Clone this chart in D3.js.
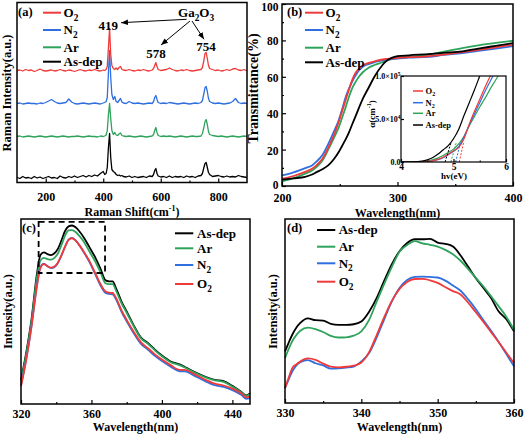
<!DOCTYPE html>
<html><head><meta charset="utf-8">
<script src="https://cdn.jsdelivr.net/npm/d3@7"></script>
<style>
body{margin:0;background:#fff}
svg{display:block}
text{font-family:"Liberation Serif","Times New Roman",serif;font-weight:bold;fill:#000}
</style>
</head><body>
<svg id="chart" width="524" height="435"></svg>
<script>
// ---------------- DATA ----------------
const seriesNames = ["O2", "N2", "Ar", "As-dep"];

// (a) Raman spectra (offset-stacked, arbitrary units)
const ramanShift = [100,110,120,130,140,150,160,170,180,190,200,210,220,230,240,250,260,270,280,290,300,310,320,330,340,350,360,370,380,390,400,
 405,410,414,418,422,426,430,435,440,445,450,455,460,465,470,
 480,490,500,510,520,530,540,550,560,570,
 575,579,583,587,591,
 600,610,620,630,640,650,660,670,680,690,700,710,720,730,740,
 745,750,754,758,762,766,770,
 780,790,800,810,820,830,840,850,860,870,880,890,900];
const ramanO2 = [112,112.5,111.5,113,112,112.5,111,112,113.5,112,111.5,112,112.5,111.5,112,113,112,111.5,112.5,112,111,112,113,112,111.5,112.5,112,113,112,111.5,112.5,
 112,113,116,135,154,128,117,114,113,114.5,113,115,116,113,112.5,
 112,113,112,111.5,112.5,112,113,112,111.5,112.5,
 114,117,120,116,113,
 112,112.5,113,114.5,113,112,111.5,112.5,112,113,112,111.5,112,112.5,113,
 115,122,129,130,124,117,114,
 113,112,112.5,111.5,112,113,112,113.5,114,112.5,112,113,111.5];
const ramanN2 = [79,79.5,78.5,79,79.5,79,79,78.5,79.5,79,80,81.5,83,81,79.5,79,79.5,80,83.5,80.5,79,78.5,79,79.5,79,78.5,79,79.5,79,78.5,79.5,
 80,81,85,110,132,105,88,83,86,81,80,82,84,80.5,79.5,
 79,81,79.5,79,79.5,79,78.5,79,79.5,79,
 81,85,87,83,80,
 79,79.5,79,80,79.5,79,78.5,79,79.5,79,78.5,79,79.5,79,80,
 82,89,95,96,91,84,81,
 79.5,79,79.5,79,78.5,79,79.5,81,84,80,79,79.5,79];
const ramanAr = [46,46.5,45.5,46,46.5,46,45.5,46,46.5,46,45.5,46,46.5,46,45.5,46,46.5,46,45.5,46,46,46.5,46,45.5,46,46.5,46,46,45.5,46.5,46,
 46.5,47.5,52,68,79,64,52,48,50,47.5,47,48.5,49.5,47,46.5,
 46,46.5,46,45.5,46,46.5,46,45.5,46,46.5,
 48,52,55,50,47,
 46,46.5,46,46.5,46,45.5,46,46.5,46,45.5,46,46.5,46,46,46.5,
 49,55,61,63,58,51,48,
 47,46.5,46,46.5,46,45.5,46,46.5,46,45.5,46,46.5,46];
const ramanAsDep = [5,4,6,4.5,5,4,6,4.5,5.5,4,5,6,4.5,5,4,6.5,5,4.5,6,5,6.5,5,6,7,5.5,7,6,7.5,6.5,9,11,
 8,9,15,35,49,25,13,11,10,8,7,7.5,6.5,7,6,
 5.5,6.5,5,6,5,5.5,6,5,6.5,6,
 8,12,14,9,6.5,
 5.5,6,5,6.5,5,6,5.5,6,5,6.5,5.5,6,5,6.5,7,
 9,15,19,20,15,10,8,
 6,6.5,7,6,5.5,6.5,5.5,6,5.5,7,6,5.5,5];
const ramanTicks = [200,400,600,800];
const ramanMinorTicks = [300,500,700];
const ramanPeakLabels = ["419","578","754"];

// (b) Transmittance
const transWavelength = [200,210,220,226,230,235,240,245,249,252,255,258,261,264,266,270,275,280,287,290,295,300,310,327,340,356,370,385,400];
const transO2 = [4,5.5,7.8,9.5,11.5,15,21,28,35,41,47,53,58.6,62.5,64,66.3,67.6,68.5,69.5,69.8,70.1,70.4,70.8,71.3,72.2,73.5,74.8,76.2,77.6];
const transN2 = [5.8,7.5,9.8,11.3,13.5,17,23,30,36,42,48.6,53.5,57.7,61,63,65.5,67,68,69,69.5,69.8,70,70.5,71,72,73,74.3,75.5,76.8];
const transAr = [2.5,4.3,6.8,8.5,10.5,14,20,26.5,32,37.5,43,49,54,57.5,59.5,62.5,65,66.5,68,68.8,69.7,70.4,71,72.2,73.8,75.8,77.3,78.6,79.8];
const transAsDep = [3.5,4.2,5,6.3,7.6,9.2,11.3,14.8,18.5,22,25.5,29.5,34.2,38.8,42,48,54,60,66.5,68.5,70.4,71.3,71.8,72.5,73.2,74,75.5,77,78.5];
const transXTicks = [200,300,400];
const transYTicks = [0,20,40,60,80,100];

// (b) inset: absorption coefficient (x 1e4 cm^-1) vs photon energy
const photonEnergy = [4.0,4.2,4.4,4.5,4.6,4.7,4.8,4.9,5.0,5.1,5.2,5.3,5.4,5.5,5.6,5.7,5.8,5.9,6.0];
const alphaO2 = [0,0,0.02,0.06,0.14,0.3,0.55,0.9,1.3,1.7,2.7,4.4,5.9,7.3,8.7,10,11.3,12.6,13.9];
const alphaN2 = [0,0,0.02,0.05,0.12,0.26,0.5,0.85,1.25,1.8,2.9,4.3,5.6,6.9,8.2,9.4,10.6,11.8,13];
const alphaAr = [0,0.01,0.05,0.12,0.25,0.45,0.75,1.1,1.5,2.1,3.0,4.2,5.3,6.4,7.4,8.5,9.5,10.5,11.5];
const alphaAsDep = [0,0.02,0.1,0.25,0.5,0.9,1.4,1.9,2.7,3.8,5.4,6.9,8.4,10,11.6,13.2,14.8,16.4,18];
const bandGap = [5.11,5.04,4.95,4.84];          // x-intercepts of tangents (O2,N2,Ar,As-dep)
const tangentTopEnergy = [5.19,5.13,5.05,4.95]; // tangent end at alpha = 2.2e4
const tangentTopAlpha = 2.2;

// (c) PL spectra
const plWavelength = [320,323,326,329,331,333,335,337,339,341,343,345,347,349,351,353,356,359,362,365,368,370,372,374,377,380,384,388,392,396,400,405,410,413,418,424,430,435,440,445,448,450];
const plAsDep = [13,28,46,70,80.5,82,81,80.5,81.5,84,88.5,93.5,96,96.5,95.5,93.5,89.5,84.5,79.5,73.4,66.8,66.3,66.3,62.5,55.5,50,42.5,36,33,29.4,26.2,23,21.4,20,17.5,15,13.1,12.4,9.8,6.6,4.6,5.9];
const plAr = [12,27,45,68,77.5,79,78.3,78,79,81.5,86,91,93.8,94,93,91,87.2,82.2,77.3,71.5,65.2,64.8,64.8,61.2,54.6,49.3,42,35.6,32.6,29,25.8,22.6,21,19.7,17.2,14.7,12.8,12,9.4,6.3,4.3,5.6];
const plN2 = [10,24.5,42.5,64,74,75.8,74.5,73.5,74,76.3,80.3,85,88.8,89.8,88.4,86,81.5,76.5,70.5,64.3,60,59.5,59.3,56.5,50,44.7,38.2,32.6,29.4,26,23.2,20.2,17.7,17.7,15.5,12.6,10.2,9.2,7.5,5,2.8,3.3];
const plO2 = [9.5,24,42,63.5,73.5,75.6,74.5,73.7,74.3,76.5,80.5,85,88.7,89.6,88.3,86,81.8,77,71,65,60.8,60.2,60,57.2,50.8,45.5,39,33.4,30.2,26.8,24,21,18.5,18.5,16.3,13.4,11,10,8.3,5.8,3.6,4.1];
const plTicks = [320,360,400,440];
const plMinorTicks = [340,380,420];
const zoomBoxWavelength = [330,367.7];
const zoomBoxIntensity = [70.8,98.4];

// (d) PL zoom 330-360 nm
const zoomWavelength = [330,330.5,331,331.5,332,333,334,335,336,337,338,339,340,341,342,343,344,345,346,347,348,349,350,351,352,353,354,355,356,357,358,359,360];
const zoomAsDep = [28,33,37.5,41,43.5,46,45,44.8,43,42.5,42.5,42.8,44.3,49.5,57,66.5,75.5,82.5,87,89,89,89.2,87.2,86.5,85,80.2,74,67.8,62.5,57,49.7,45.5,38.9];
const zoomAr = [24.4,29.5,34,37,39.3,41,40.2,38.6,36.5,35.6,35.7,36.6,38.9,45,55,64.8,74,82.2,85.8,88,86.8,86,85,83.2,80.8,77.3,72.8,68,63.3,58,52.5,46.8,39.8];
const zoomN2 = [8.1,13,17.5,20.5,22.2,23.3,21.6,20.4,18.7,18.8,19.2,19.8,22.6,27,35.5,45.5,55.2,62.5,66.8,68.5,68.7,68.5,68.2,66.5,63.8,61,56.3,51,45,39.3,33.2,26.6,19.9];
const zoomO2 = [8.1,14,19.3,21,22.6,24.2,23.4,21.4,19.8,19.4,19.7,20.3,22,27.5,36.8,46.7,55.5,62,65.8,67.4,67.5,66.7,65.3,63,60.8,59,54.5,49.3,44,38.5,33,27.3,21.7];
const zoomTicks = [330,340,350,360];
const zoomMinorTicks = [335,345,355];

// ---------------- DRAWING ----------------
const FONT = '"Liberation Serif","Times New Roman",serif';
const COLORS = {"O2":"#f03a3a","N2":"#2f6fdf","Ar":"#2ea35b","As-dep":"#000000"};
const svg = d3.select("#chart");
svg.append("rect").attr("width",524).attr("height",435).attr("fill","#fff");

const defs = svg.append("defs");
defs.append("marker").attr("id","ah").attr("viewBox","0 0 10 10").attr("refX",10).attr("refY",5)
  .attr("markerWidth",7).attr("markerHeight",7).attr("orient","auto")
  .append("path").attr("d","M0,1 L10,5 L0,9 z").attr("fill","#000");

function addRich(t, str, fs){
  const runs=[]; let cur={t:"",sub:false};
  for(let i=0;i<str.length;i++){
    const c=str[i];
    const sub = /\d/.test(c) && ((i>0 && /[A-Za-z]/.test(str[i-1])) || cur.sub);
    if(sub!==cur.sub){ if(cur.t) runs.push(cur); cur={t:"",sub:sub}; }
    cur.t+=c;
  }
  runs.push(cur);
  let shifted=false;
  runs.forEach(r=>{
    const ts=t.append("tspan").text(r.t);
    if(r.sub){ ts.attr("font-size",fs*0.72).attr("dy",fs*0.3); shifted=true; }
    else if(shifted){ ts.attr("dy",-fs*0.3); shifted=false; }
  });
}

function frame(x0,y0,x1,y1,sw){
  svg.append("rect").attr("x",x0).attr("y",y0).attr("width",x1-x0).attr("height",y1-y0)
    .attr("fill","none").attr("stroke","#000").attr("stroke-width",sw||1.5);
}

function xAxis(scale,y,major,minor,pad,fs,fmt,len){
  len = len||4;
  const g=svg.append("g").attr("transform",`translate(0,${y})`)
    .call(d3.axisBottom(scale).tickValues(major).tickSize(-len).tickSizeOuter(0).tickPadding(pad).tickFormat(fmt||d3.format("d")));
  g.attr("font-family",FONT).attr("font-size",fs).attr("font-weight","bold");
  g.select(".domain").remove();
  g.selectAll(".tick line").attr("stroke-width",1.2);
  if(minor){
    const m=svg.append("g").attr("transform",`translate(0,${y})`)
      .call(d3.axisBottom(scale).tickValues(minor).tickSize(-len/2).tickSizeOuter(0).tickFormat(""));
    m.select(".domain").remove(); m.selectAll("line").attr("stroke-width",1.2);
  }
  return g;
}
function yAxis(scale,x,major,minor,pad,fs,fmt,len){
  len = len||4;
  const g=svg.append("g").attr("transform",`translate(${x},0)`)
    .call(d3.axisLeft(scale).tickValues(major).tickSize(-len).tickSizeOuter(0).tickPadding(pad).tickFormat(fmt||d3.format("d")));
  g.attr("font-family",FONT).attr("font-size",fs).attr("font-weight","bold");
  g.select(".domain").remove();
  g.selectAll(".tick line").attr("stroke-width",1.2);
  if(minor){
    const m=svg.append("g").attr("transform",`translate(${x},0)`)
      .call(d3.axisLeft(scale).tickValues(minor).tickSize(-len/2).tickSizeOuter(0).tickFormat(""));
    m.select(".domain").remove(); m.selectAll("line").attr("stroke-width",1.2);
  }
  return g;
}
function drawSeries(g,xs,ys,x,y,color,lw,curve){
  const pts = xs.map((v,i)=>[v,ys[i]]).filter(p=>p[1]!==undefined);
  g.append("path").datum(pts).attr("fill","none").attr("stroke",color).attr("stroke-width",lw)
    .attr("stroke-linejoin","round")
    .attr("d",d3.line().x(d=>x(d[0])).y(d=>y(d[1])).curve(curve||d3.curveLinear));
}
function legend(names,x0,x1,tx,ys,fs,lw){
  names.forEach((n,i)=>{
    svg.append("line").attr("x1",x0).attr("x2",x1).attr("y1",ys[i]).attr("y2",ys[i])
      .attr("stroke",COLORS[n]).attr("stroke-width",lw);
    const t=svg.append("text").attr("x",tx).attr("y",ys[i]+fs*0.33).attr("font-size",fs);
    addRich(t,n,fs);
  });
}
function vTitle(x,y,str,fs){
  return svg.append("text").attr("transform",`translate(${x},${y}) rotate(-90)`)
    .attr("text-anchor","middle").attr("font-size",fs).text(str);
}

// ===== Panel (a) =====
const A = {l:17,r:247,t:2.5,b:182.5};
const xA = d3.scaleLinear([100,900],[A.l,A.r]);
const yA = d3.scaleLinear([0,180],[A.b,A.t]);
const gA = svg.append("g");
const ramanSets = {"O2":ramanO2,"N2":ramanN2,"Ar":ramanAr,"As-dep":ramanAsDep};
["As-dep","Ar","N2","O2"].forEach(n=>drawSeries(gA,ramanShift,ramanSets[n],xA,yA,COLORS[n],1.3));
frame(A.l,A.t,A.r,A.b);
xAxis(xA,A.b,ramanTicks,ramanMinorTicks,10,12);
const tA = svg.append("text").attr("x",(A.l+A.r)/2).attr("y",216).attr("text-anchor","middle").attr("font-size",12);
tA.append("tspan").text("Raman Shift(cm");
tA.append("tspan").attr("font-size",8).attr("dy",-5).text("-1");
tA.append("tspan").attr("dy",5).text(")");
vTitle(10.5,93,"Raman Intensity(a.u.)",12.5);
svg.append("text").attr("x",18).attr("y",16).attr("font-size",12.5).text("(a)");
legend(["O2","N2","Ar","As-dep"],43,61,63.5,[12.7,30,47.3,61.7],13,2);
// annotations
const annFS = 13;
const peakLabelX = [417.5,583.5,757.4], peakLabelY = [152.5,124.5,132];
ramanPeakLabels.forEach((s,i)=>svg.append("text").attr("x",xA(peakLabelX[i])).attr("y",yA(peakLabelY[i]))
  .attr("text-anchor","middle").attr("font-size",annFS).text(s));
const gaT = svg.append("text").attr("x",xA(723)).attr("y",yA(165.5)).attr("text-anchor","middle").attr("font-size",annFS);
addRich(gaT,"Ga2O3",annFS);
[[690,163.2,461.7,159.8],[701.7,161.5,600.8,137.5],[708.7,161.5,750.4,143.2]].forEach(a=>{
  svg.append("line").attr("x1",xA(a[0])).attr("y1",yA(a[1])).attr("x2",xA(a[2])).attr("y2",yA(a[3]))
    .attr("stroke","#000").attr("stroke-width",1).attr("marker-end","url(#ah)");
});

// ===== Panel (b) =====
const B = {l:282,r:513,t:4,b:186};
const xB = d3.scaleLinear([200,400],[B.l,B.r]);
const yB = d3.scaleLinear([0,100],[B.b,B.t]);
const gB = svg.append("g");
const transSets = {"O2":transO2,"N2":transN2,"Ar":transAr,"As-dep":transAsDep};
["Ar","N2","O2","As-dep"].forEach(n=>drawSeries(gB,transWavelength,transSets[n],xB,yB,COLORS[n],1.8,d3.curveMonotoneX));
frame(B.l,B.t,B.r,B.b);
xAxis(xB,B.b,transXTicks,[250,350],7.5,12);
const yBax = yAxis(yB,B.l,transYTicks,[10,30,50,70,90],3.5,11.5);
yBax.selectAll(".tick text").attr("dy",null).attr("y",d=>d===100?6.5:(d===0?2.5:4.5));
svg.append("text").attr("x",(B.l+B.r)/2).attr("y",216.5).attr("text-anchor","middle").attr("font-size",12).text("Wavelength(nm)");
vTitle(257.5,88.5,"Transmittance(%)",14);
svg.append("text").attr("x",287).attr("y",16).attr("font-size",12.5).text("(b)");
legend(["O2","N2","Ar","As-dep"],305,323,325.5,[12.7,30,47.7,62.3],13,2);

// inset
const I = {l:401,r:506,t:76,b:162};
svg.append("rect").attr("x",I.l).attr("y",I.t).attr("width",I.r-I.l).attr("height",I.b-I.t).attr("fill","#fff");
const xI = d3.scaleLinear([4,6],[I.l,I.r]);
const yI = d3.scaleLinear([0,10],[I.b,I.t]);
defs.append("clipPath").attr("id","clipI").append("rect").attr("x",I.l).attr("y",I.t).attr("width",I.r-I.l).attr("height",I.b-I.t);
const gI = svg.append("g").attr("clip-path","url(#clipI)");
const alphaSets = {"O2":alphaO2,"N2":alphaN2,"Ar":alphaAr,"As-dep":alphaAsDep};
["Ar","N2","O2","As-dep"].forEach(n=>drawSeries(gI,photonEnergy,alphaSets[n],xI,yI,COLORS[n],1.2,d3.curveMonotoneX));
seriesNames.forEach((n,i)=>{
  gI.append("line").attr("x1",xI(bandGap[i])).attr("y1",yI(0)).attr("x2",xI(tangentTopEnergy[i])).attr("y2",yI(tangentTopAlpha))
    .attr("stroke",COLORS[n]).attr("stroke-width",1).attr("stroke-dasharray","2,1.5");
});
frame(I.l,I.t,I.r,I.b,1.2);
xAxis(xI,I.b,[4,5,6],[4.5,5.5],1,9.5,d3.format("d"),3);
yAxis(yI,I.l,[0,5,10],null,1.5,8,d=>"",3);
// inset y labels with superscripts
const insetYLabels = [[0,"0.0",null],[5,"5.0×10","4"],[10,"1.0×10","5"]];
insetYLabels.forEach(l=>{
  const t=svg.append("text").attr("x",I.l-0.5).attr("y",yI(l[0])+3).attr("text-anchor","end").attr("font-size",8);
  t.append("tspan").text(l[1]);
  if(l[2]) t.append("tspan").attr("font-size",5.5).attr("dy",-3.5).text(l[2]);
});
svg.append("text").attr("x",454).attr("y",179).attr("text-anchor","middle").attr("font-size",9).text("hv(eV)");
const aT = svg.append("text").attr("transform","translate(374.5,114) rotate(-90)").attr("text-anchor","middle").attr("font-size",9);
aT.append("tspan").text("α(cm");
aT.append("tspan").attr("font-size",6).attr("dy",-3.5).text("-1");
aT.append("tspan").attr("dy",3.5).text(")");
legend(["O2","N2","Ar","As-dep"],413,423,425.5,[91,102.7,113.3,125],8.5,1.5);

// ===== Panel (c) =====
const C = {l:21,r:250,t:219,b:404};
const xC = d3.scaleLinear([320,450],[C.l,C.r]);
const yC = d3.scaleLinear([0,100],[C.b,C.t]);
const gC = svg.append("g");
const plSets = {"O2":plO2,"N2":plN2,"Ar":plAr,"As-dep":plAsDep};
["As-dep","Ar","N2","O2"].forEach(n=>drawSeries(gC,plWavelength,plSets[n],xC,yC,COLORS[n],1.8,d3.curveMonotoneX));
svg.append("rect").attr("x",xC(zoomBoxWavelength[0])).attr("y",yC(zoomBoxIntensity[1]))
  .attr("width",xC(zoomBoxWavelength[1])-xC(zoomBoxWavelength[0]))
  .attr("height",yC(zoomBoxIntensity[0])-yC(zoomBoxIntensity[1]))
  .attr("fill","none").attr("stroke","#000").attr("stroke-width",1.8).attr("stroke-dasharray","6,4");
frame(C.l,C.t,C.r,C.b);
xAxis(xC,C.b,plTicks,plMinorTicks,5,12);
svg.append("text").attr("x",(C.l+C.r)/2).attr("y",431).attr("text-anchor","middle").attr("font-size",12).text("Wavelength(nm)");
vTitle(11.5,311.5,"Intensity(a.u.)",12.5);
svg.append("text").attr("x",22).attr("y",232).attr("font-size",12.5).text("(c)");
legend(["As-dep","Ar","N2","O2"],175,193.3,197,[233.3,248.3,265,284],13,2);

// ===== Panel (d) =====
const D = {l:285,r:514,t:219,b:403};
const xD = d3.scaleLinear([330,360],[D.l,D.r]);
const yD = d3.scaleLinear([0,100],[D.b,D.t]);
const gD = svg.append("g");
const zoomSets = {"O2":zoomO2,"N2":zoomN2,"Ar":zoomAr,"As-dep":zoomAsDep};
["As-dep","Ar","N2","O2"].forEach(n=>drawSeries(gD,zoomWavelength,zoomSets[n],xD,yD,COLORS[n],1.8,d3.curveMonotoneX));
frame(D.l,D.t,D.r,D.b);
xAxis(xD,D.b,zoomTicks,zoomMinorTicks,5.5,12);
svg.append("text").attr("x",(D.l+D.r)/2).attr("y",431).attr("text-anchor","middle").attr("font-size",12).text("Wavelength(nm)");
vTitle(276.5,311.5,"Intensity(a.u.)",12.5);
svg.append("text").attr("x",287).attr("y",232).attr("font-size",12.5).text("(d)");
legend(["As-dep","Ar","N2","O2"],317,335.3,338.7,[230,246.7,263.3,281.7],13,2);
</script>
</body></html>
